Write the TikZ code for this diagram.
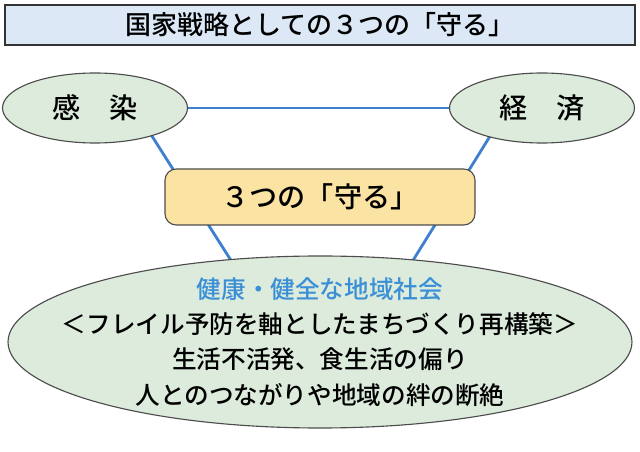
\documentclass[tikz,border=0pt]{standalone}
\usepackage{fontspec}
\setmainfont{Noto Sans CJK JP}[BoldFont={Noto Sans CJK JP Medium}]
\usetikzlibrary{positioning,shapes}
\definecolor{linkblue}{HTML}{3F7FD0}
\definecolor{titlefill}{HTML}{DCE8F6}
\definecolor{ovalfill}{HTML}{DCEBDC}
\definecolor{keyfill}{HTML}{FBE3A4}
\definecolor{headblue}{HTML}{3A8FD6}
\tikzset{
  oval/.style={ellipse,draw=black!70,line width=0.8pt,fill=ovalfill,inner sep=0pt},
  link/.style={linkblue,line width=2pt}
}
\begin{document}
\begin{tikzpicture}[x=0.025cm,y=-0.025cm,font=\bfseries\fontsize{18.5}{22}\selectfont]
\useasboundingbox (0,0) rectangle (640,452);
% title
\node (title) [draw=black!80,line width=0.8pt,fill=titlefill,minimum width=630*0.025cm,minimum height=40*0.025cm] at (320,25) {国家戦略としての３つの「守る」};
% connectors first
\coordinate (a1) at (185,108);
\coordinate (a2) at (452,108);
\coordinate (b1) at (150,133);
\coordinate (b2) at (232,262);
\coordinate (c1) at (492,133);
\coordinate (c2) at (412,262);
\draw[link] (a1) -- (a2);
\draw[link] (b1) -- (b2);
\draw[link] (c1) -- (c2);
% nodes
\node (inf) [oval,minimum width=185*0.025cm,minimum height=70*0.025cm,font=\bfseries\fontsize{20}{24}\selectfont] at (95,108) {感\quad 染};
\node (eco) [oval,minimum width=185*0.025cm,minimum height=70*0.025cm,font=\bfseries\fontsize{20}{24}\selectfont] at (542,108) {経\quad 済};
\node (key) [draw=black!70,line width=0.8pt,fill=keyfill,rounded corners=8pt,minimum width=310*0.025cm,minimum height=56*0.025cm,font=\bfseries\fontsize{20}{24}\selectfont] at (320,197) {３つの「守る」};
\node (soc) [oval,inner xsep=-1.2cm,inner ysep=-0.5cm,minimum width=624*0.025cm,minimum height=172*0.025cm,align=center,font=\bfseries\fontsize{17.5}{25}\selectfont] at (320,342)
  {{\color{headblue}健康・健全な地域社会}\\＜フレイル予防を軸としたまちづくり再構築＞\\生活不活発、食生活の偏り\\人とのつながりや地域の絆の断絶};
\end{tikzpicture}
\end{document}
